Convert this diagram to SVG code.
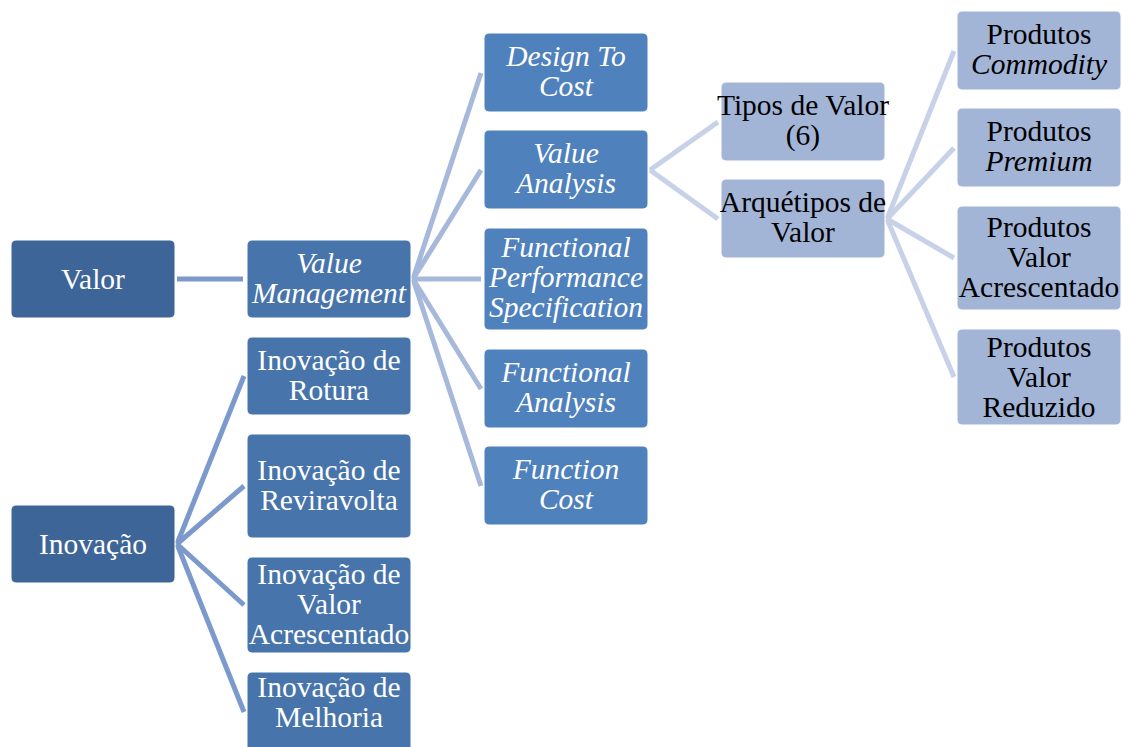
<svg xmlns="http://www.w3.org/2000/svg" width="1123" height="747" viewBox="0 0 1123 747" style="font-family:'Liberation Serif',serif">
<style>
.d{fill:#3e6597;stroke:#ffffff;stroke-width:1}
.m{fill:#4774ab;stroke:#ffffff;stroke-width:1}
.l3{fill:#4f81bd;stroke:#ffffff;stroke-width:1}
.lt{fill:#a3b5d7;stroke:#ffffff;stroke-width:1}
.c1{stroke:#7b9acb;stroke-width:5;fill:none}
.c2{stroke:#a7b9da;stroke-width:5;fill:none}
.c3{stroke:#c7d1e7;stroke-width:5;fill:none}
</style>
<rect width="1123" height="747" fill="#ffffff"/>
<g id="connectors">
<line class="c1" x1="177" y1="279" x2="243" y2="279"/>
<line class="c2" x1="413" y1="279" x2="481" y2="73"/>
<line class="c2" x1="413" y1="279" x2="481" y2="170"/>
<line class="c2" x1="413" y1="279" x2="481" y2="279"/>
<line class="c2" x1="413" y1="279" x2="481" y2="389"/>
<line class="c2" x1="413" y1="279" x2="481" y2="486"/>
<line class="c1" x1="177" y1="544" x2="244" y2="376"/>
<line class="c1" x1="177" y1="544" x2="244" y2="486"/>
<line class="c1" x1="177" y1="544" x2="244" y2="605"/>
<line class="c1" x1="177" y1="544" x2="244" y2="712"/>
<line class="c3" x1="650" y1="170" x2="718" y2="122"/>
<line class="c3" x1="650" y1="170" x2="718" y2="219"/>
<line class="c3" x1="887" y1="219" x2="954" y2="51"/>
<line class="c3" x1="887" y1="219" x2="954" y2="148"/>
<line class="c3" x1="887" y1="219" x2="954" y2="258"/>
<line class="c3" x1="887" y1="219" x2="954" y2="377"/>
</g>
<g id="valor"><rect class="d" x="11" y="240" width="164" height="78" rx="5"/><text x="93" y="289" font-family="Liberation Serif" font-size="29.5" text-anchor="middle" fill="#ffffff">Valor</text></g>
<g id="inovacao"><rect class="d" x="11" y="505" width="164" height="78" rx="5"/><text x="93" y="554" font-family="Liberation Serif" font-size="29.5" text-anchor="middle" fill="#ffffff">Inovação</text></g>
<g id="value-management"><rect class="m" x="247" y="240" width="164" height="78" rx="5"/><text x="329" y="273" font-family="Liberation Serif" font-size="29.5" text-anchor="middle" fill="#ffffff" font-style="italic">Value</text><text x="329" y="303" font-family="Liberation Serif" font-size="29.5" text-anchor="middle" fill="#ffffff" font-style="italic">Management</text></g>
<g id="inov-rotura"><rect class="m" x="247" y="337" width="164" height="78" rx="5"/><text x="329" y="370" font-family="Liberation Serif" font-size="29.5" text-anchor="middle" fill="#ffffff">Inovação de</text><text x="329" y="400" font-family="Liberation Serif" font-size="29.5" text-anchor="middle" fill="#ffffff">Rotura</text></g>
<g id="inov-reviravolta"><rect class="m" x="247" y="434" width="164" height="104" rx="5"/><text x="329" y="480" font-family="Liberation Serif" font-size="29.5" text-anchor="middle" fill="#ffffff">Inovação de</text><text x="329" y="510" font-family="Liberation Serif" font-size="29.5" text-anchor="middle" fill="#ffffff">Reviravolta</text></g>
<g id="inov-valor-acrescentado"><rect class="m" x="247" y="557" width="164" height="96" rx="5"/><text x="329" y="584" font-family="Liberation Serif" font-size="29.5" text-anchor="middle" fill="#ffffff">Inovação de</text><text x="329" y="614" font-family="Liberation Serif" font-size="29.5" text-anchor="middle" fill="#ffffff">Valor</text><text x="329" y="644" font-family="Liberation Serif" font-size="29.5" text-anchor="middle" fill="#ffffff">Acrescentado</text></g>
<g id="inov-melhoria"><rect class="m" x="247" y="672" width="164" height="82" rx="5"/><text x="329" y="697" font-family="Liberation Serif" font-size="29.5" text-anchor="middle" fill="#ffffff">Inovação de</text><text x="329" y="727" font-family="Liberation Serif" font-size="29.5" text-anchor="middle" fill="#ffffff">Melhoria</text></g>
<g id="design-to-cost"><rect class="l3" x="484" y="33" width="164" height="79" rx="5"/><text x="566" y="66" font-family="Liberation Serif" font-size="29.5" text-anchor="middle" fill="#ffffff" font-style="italic">Design To</text><text x="566" y="96" font-family="Liberation Serif" font-size="29.5" text-anchor="middle" fill="#ffffff" font-style="italic">Cost</text></g>
<g id="value-analysis"><rect class="l3" x="484" y="130" width="164" height="79" rx="5"/><text x="566" y="163" font-family="Liberation Serif" font-size="29.5" text-anchor="middle" fill="#ffffff" font-style="italic">Value</text><text x="566" y="193" font-family="Liberation Serif" font-size="29.5" text-anchor="middle" fill="#ffffff" font-style="italic">Analysis</text></g>
<g id="fps"><rect class="l3" x="484" y="228" width="164" height="102" rx="5"/><text x="566" y="257" font-family="Liberation Serif" font-size="29.5" text-anchor="middle" fill="#ffffff" font-style="italic">Functional</text><text x="566" y="287" font-family="Liberation Serif" font-size="29.5" text-anchor="middle" fill="#ffffff" font-style="italic">Performance</text><text x="566" y="317" font-family="Liberation Serif" font-size="29.5" text-anchor="middle" fill="#ffffff" font-style="italic">Specification</text></g>
<g id="functional-analysis"><rect class="l3" x="484" y="349" width="164" height="79" rx="5"/><text x="566" y="382" font-family="Liberation Serif" font-size="29.5" text-anchor="middle" fill="#ffffff" font-style="italic">Functional</text><text x="566" y="412" font-family="Liberation Serif" font-size="29.5" text-anchor="middle" fill="#ffffff" font-style="italic">Analysis</text></g>
<g id="function-cost"><rect class="l3" x="484" y="446" width="164" height="79" rx="5"/><text x="566" y="479" font-family="Liberation Serif" font-size="29.5" text-anchor="middle" fill="#ffffff" font-style="italic">Function</text><text x="566" y="509" font-family="Liberation Serif" font-size="29.5" text-anchor="middle" fill="#ffffff" font-style="italic">Cost</text></g>
<g id="tipos-valor"><rect class="lt" x="721" y="82" width="164" height="79" rx="5"/><text x="803" y="115" font-family="Liberation Serif" font-size="29.5" text-anchor="middle" fill="#000000">Tipos de Valor</text><text x="803" y="145" font-family="Liberation Serif" font-size="29.5" text-anchor="middle" fill="#000000">(6)</text></g>
<g id="arquetipos"><rect class="lt" x="721" y="179" width="164" height="79" rx="5"/><text x="803" y="212" font-family="Liberation Serif" font-size="29.5" text-anchor="middle" fill="#000000">Arquétipos de</text><text x="803" y="242" font-family="Liberation Serif" font-size="29.5" text-anchor="middle" fill="#000000">Valor</text></g>
<g id="commodity"><rect class="lt" x="957" y="11" width="164" height="79" rx="5"/><text x="1039" y="44" font-family="Liberation Serif" font-size="29.5" text-anchor="middle" fill="#000000">Produtos</text><text x="1039" y="74" font-family="Liberation Serif" font-size="29.5" text-anchor="middle" fill="#000000" font-style="italic">Commodity</text></g>
<g id="premium"><rect class="lt" x="957" y="108" width="164" height="79" rx="5"/><text x="1039" y="141" font-family="Liberation Serif" font-size="29.5" text-anchor="middle" fill="#000000">Produtos</text><text x="1039" y="171" font-family="Liberation Serif" font-size="29.5" text-anchor="middle" fill="#000000" font-style="italic">Premium</text></g>
<g id="prod-valor-acrescentado"><rect class="lt" x="957" y="206" width="164" height="104" rx="5"/><text x="1039" y="237" font-family="Liberation Serif" font-size="29.5" text-anchor="middle" fill="#000000">Produtos</text><text x="1039" y="267" font-family="Liberation Serif" font-size="29.5" text-anchor="middle" fill="#000000">Valor</text><text x="1039" y="297" font-family="Liberation Serif" font-size="29.5" text-anchor="middle" fill="#000000">Acrescentado</text></g>
<g id="prod-valor-reduzido"><rect class="lt" x="957" y="329" width="164" height="96" rx="5"/><text x="1039" y="357" font-family="Liberation Serif" font-size="29.5" text-anchor="middle" fill="#000000">Produtos</text><text x="1039" y="387" font-family="Liberation Serif" font-size="29.5" text-anchor="middle" fill="#000000">Valor</text><text x="1039" y="417" font-family="Liberation Serif" font-size="29.5" text-anchor="middle" fill="#000000">Reduzido</text></g>
</svg>
